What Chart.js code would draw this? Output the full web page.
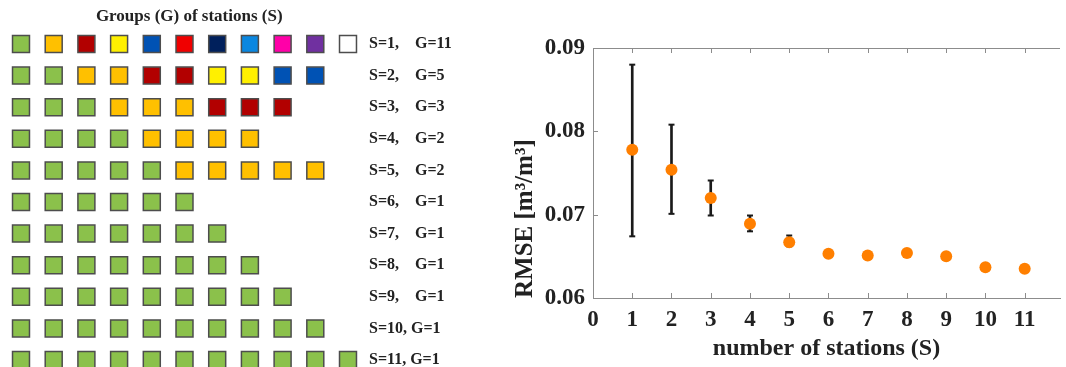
<!DOCTYPE html>
<html lang="en">
<head>
<meta charset="UTF-8">
<title>RMSE vs number of stations</title>
<script src="https://cdn.jsdelivr.net/npm/chart.js@4"></script>
<style>
  body { margin: 0; background: #fff; overflow: hidden; }
  #groupsChart { position: absolute; left: 0; top: 0; }
  #rmseChart { position: absolute; left: 500px; top: 0; }
</style>
</head>
<body>
<canvas id="groupsChart" width="500" height="367"></canvas>
<canvas id="rmseChart" width="566" height="367"></canvas>
<script>
// left panel: how the stations are split into groups
const stationsPerGroup = [1, 2, 3, 4, 5, 6, 7, 8, 9, 10, 11];
const groupsPerRow = [11, 5, 3, 2, 2, 1, 1, 1, 1, 1, 1];
const rowLabels = ['S=1,    G=11', 'S=2,    G=5', 'S=3,    G=3', 'S=4,    G=2', 'S=5,    G=2',
  'S=6,    G=1', 'S=7,    G=1', 'S=8,    G=1', 'S=9,    G=1', 'S=10, G=1', 'S=11, G=1'];
const groupColors = ['#8bc14b', '#ffc000', '#b20000', '#fff000', '#0052b4', '#f00000',
  '#00205c', '#0a87e0', '#ff00a8', '#7030a0', '#ffffff'];

// right panel: RMSE vs number of stations
const stations = [1, 2, 3, 4, 5, 6, 7, 8, 9, 10, 11];
const rmse = [0.0778, 0.0754, 0.0720, 0.0689, 0.0667, 0.0653, 0.0651, 0.0654, 0.0650, 0.0637, 0.0635];
const errLow = [0.0674, 0.0701, 0.0699, 0.0680, 0.0662];
const errHigh = [0.0880, 0.0808, 0.0741, 0.0699, 0.0675];
const xTicks = [0, 1, 2, 3, 4, 5, 6, 7, 8, 9, 10, 11];
const yTicks = [0.06, 0.07, 0.08, 0.09];

const serif = 'Liberation Serif';
const textColor = '#222';
const axisGray = '#8c8c8c';

// squares: one row per S, each group filled with its own colour
const squares = [];
stationsPerGroup.forEach((s, r) => {
    for (let g = 0; g < groupsPerRow[r]; g++) {
        for (let k = 0; k < s; k++) {
            squares.push({ x: g * s + k + 1, y: r + 1, color: groupColors[g] });
        }
    }
});

const groupsChart = new Chart(document.getElementById('groupsChart'), {
    type: 'scatter',
    data: {
        datasets: [{
            data: squares.map(q => ({ x: q.x, y: q.y })),
            pointStyle: 'rect',
            pointRadius: 12,
            pointHoverRadius: 12,
            backgroundColor: squares.map(q => q.color),
            borderColor: '#4d4d4d',
            borderWidth: 1.5,
            clip: false
        }]
    },
    options: {
        responsive: false,
        animation: false,
        events: [],
        layout: { padding: 0 },
        plugins: {
            legend: { display: false },
            tooltip: { enabled: false },
            title: {
                display: true,
                text: 'Groups (G) of stations (S)',
                fullSize: false,
                color: textColor,
                font: { family: serif, size: 17, weight: 'bold' },
                padding: { top: 6, bottom: 4 }
            }
        },
        scales: {
            x: { type: 'linear', display: false, min: 0.36, max: 11.52 },
            y: {
                type: 'linear',
                position: 'right',
                reverse: true,
                min: 0.557,
                max: 11.22,
                afterFit: s => { s.width = 135; },
                afterBuildTicks: s => { s.ticks = rowLabels.map((_, i) => ({ value: i + 1 })); },
                grid: { display: false, drawTicks: false },
                border: { display: false },
                ticks: {
                    autoSkip: false,
                    padding: 4,
                    color: textColor,
                    font: { family: serif, size: 16, weight: 'bold', lineHeight: 0.2 },
                    callback: v => rowLabels[v - 1]
                }
            }
        }
    }
});

// put column 1 / 11 and row 1 / 11 where they sit in the figure
(function placeGrid(chart) {
    const a = chart.chartArea;
    const col1 = 21, col11 = 348, row1 = 44, row11 = 360;
    const sx = (col11 - col1) / 10, sy = (row11 - row1) / 10;
    chart.options.scales.x.min = 1 - (col1 - a.left) / sx;
    chart.options.scales.x.max = 11 + (a.right - col11) / sx;
    chart.options.scales.y.min = 1 - (row1 - a.top) / sy;
    chart.options.scales.y.max = 11 + (a.bottom - row11) / sy;
    chart.update();
})(groupsChart);

// matlab style box: top line plus ticks pointing inwards
const boxTicks = {
    id: 'boxTicks',
    beforeDatasetsDraw(chart) {
        const ctx = chart.ctx;
        const a = chart.chartArea;
        const { x, y } = chart.scales;
        ctx.save();
        ctx.strokeStyle = axisGray;
        ctx.lineWidth = 1;
        ctx.beginPath();
        ctx.moveTo(a.left, a.top + 0.5);
        ctx.lineTo(a.right, a.top + 0.5);
        x.ticks.forEach(t => {
            const px = Math.round(x.getPixelForValue(t.value)) + 0.5;
            ctx.moveTo(px, a.bottom);
            ctx.lineTo(px, a.bottom - 5);
            ctx.moveTo(px, a.top);
            ctx.lineTo(px, a.top + 5);
        });
        y.ticks.forEach(t => {
            const py = Math.round(y.getPixelForValue(t.value)) + 0.5;
            ctx.moveTo(a.left, py);
            ctx.lineTo(a.left + 5, py);
        });
        ctx.stroke();
        ctx.restore();
    }
};

new Chart(document.getElementById('rmseChart'), {
    type: 'scatter',
    data: {
        datasets: [{
            data: stations.map((s, i) => ({ x: s, y: rmse[i] })),
            pointRadius: 6,
            pointHoverRadius: 6,
            backgroundColor: '#ff7f00',
            borderWidth: 0
        }, {
            type: 'bar',
            data: errLow.map((lo, i) => ({ x: stations[i], y: [lo, errHigh[i]] })),
            backgroundColor: '#1a1a1a',
            barThickness: 2,
            borderWidth: 0
        }, {
            data: errLow.map((lo, i) => ({ x: stations[i], y: lo }))
                .concat(errHigh.map((hi, i) => ({ x: stations[i], y: hi }))),
            pointStyle: 'line',
            pointRadius: 3,
            pointHoverRadius: 3,
            borderColor: '#1a1a1a',
            borderWidth: 2
        }]
    },
    options: {
        responsive: false,
        animation: false,
        events: [],
        layout: { padding: { top: 48, left: 0, right: 0, bottom: 0 } },
        plugins: {
            legend: { display: false },
            tooltip: { enabled: false }
        },
        scales: {
            x: {
                type: 'linear',
                min: 0,
                max: 11.9,
                offset: false,
                afterFit: s => { s.height = 69; },
                afterBuildTicks: s => { s.ticks = xTicks.map(v => ({ value: v })); },
                grid: { display: false, drawTicks: false },
                border: { color: axisGray, width: 1 },
                ticks: {
                    padding: 8,
                    color: textColor,
                    font: { family: serif, size: 23, weight: 'bold' }
                },
                title: {
                    display: true,
                    text: 'number of stations (S)',
                    color: textColor,
                    font: { family: serif, size: 24, weight: 'bold' },
                    padding: { top: 4, bottom: 4 }
                }
            },
            y: {
                type: 'linear',
                min: 0.06,
                max: 0.09,
                afterFit: s => { s.width = 93; },
                afterBuildTicks: s => { s.ticks = yTicks.map(v => ({ value: v })); },
                grid: { display: false, drawTicks: false },
                border: { color: axisGray, width: 1 },
                ticks: {
                    padding: 8,
                    color: textColor,
                    font: { family: serif, size: 23, weight: 'bold' },
                    callback: v => v.toFixed(2)
                },
                title: {
                    display: true,
                    text: 'RMSE [m³/m³]',
                    align: 'start',
                    color: textColor,
                    font: { family: serif, size: 25, weight: 'bold' },
                    padding: { top: 11, bottom: 0 }
                }
            }
        }
    },
    plugins: [boxTicks]
});
</script>
</body>
</html>
